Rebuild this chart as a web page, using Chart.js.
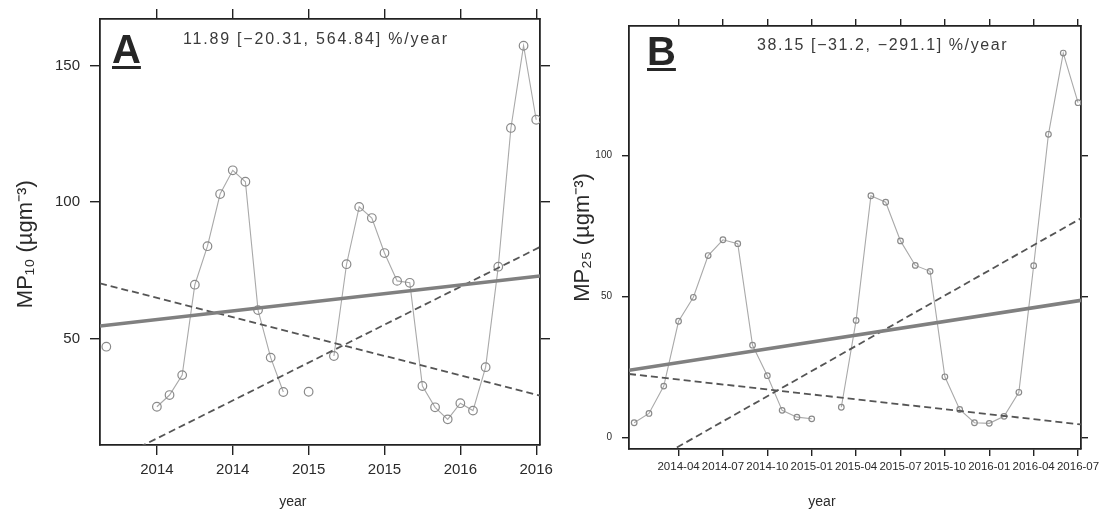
<!DOCTYPE html>
<html><head><meta charset="utf-8">
<script src="https://cdn.jsdelivr.net/npm/chart.js@4.4.1/dist/chart.umd.min.js"></script>
<style>
html,body{margin:0;padding:0;background:#fff;}
#wrap{position:relative;width:1102px;height:511px;overflow:hidden;}
canvas{position:absolute;top:0;}
#cA{left:0;}
#cB{left:560px;}
</style></head><body>
<div id="wrap">
<canvas id="cA" width="560" height="511"></canvas>
<canvas id="cB" width="542" height="511"></canvas>
</div>
<script>
// ---------- data ----------
const monthsA = ['2013-09','2013-10','2013-11','2013-12',
  '2014-01','2014-02','2014-03','2014-04','2014-05','2014-06','2014-07','2014-08','2014-09','2014-10','2014-11','2014-12',
  '2015-01','2015-02','2015-03','2015-04','2015-05','2015-06','2015-07','2015-08','2015-09','2015-10','2015-11','2015-12',
  '2016-01','2016-02','2016-03','2016-04','2016-05','2016-06','2016-07'];
const mp10 = [47, null, null, null,
  25, 29.3, 36.6, 69.7, 83.8, 102.9, 111.6, 107.4, 60.4, 43, 30.4, null,
  30.5, null, 43.6, 77.2, 98.2, 94.1, 81.3, 71.1, 70.4, 32.6, 24.8, 20.4,
  26.3, 23.6, 39.5, 76.3, 127.1, 157.2, 130.1];

const monthsB = ['2014-01','2014-02','2014-03','2014-04','2014-05','2014-06','2014-07','2014-08','2014-09','2014-10','2014-11','2014-12',
  '2015-01','2015-02','2015-03','2015-04','2015-05','2015-06','2015-07','2015-08','2015-09','2015-10','2015-11','2015-12',
  '2016-01','2016-02','2016-03','2016-04','2016-05','2016-06','2016-07'];
const mp25 = [5.3, 8.6, 18.3, 41.3, 49.8, 64.6, 70.2, 68.8, 32.8, 22.0, 9.7, 7.3,
  6.7, null, 10.8, 41.6, 85.8, 83.5, 69.8, 61.1, 59, 21.6, 10, 5.3,
  5.1, 7.6, 16.1, 61, 107.6, 136.4, 118.8];

const tickDatesA = ['2014-01','2014-07','2015-01','2015-07','2016-01','2016-07'];
const tickLabelsA = ['2014','2014','2015','2015','2016','2016'];
const tickDatesB = ['2014-04','2014-07','2014-10','2015-01','2015-04','2015-07','2015-10','2016-01','2016-04','2016-07'];
const tickLabelsB = ['2014-04','2014-07','2014-10','2015-01','2015-04','2015-07','2015-10','2016-01','2016-04','2016-07'];
const yTicksA = [50, 100, 150];
const yTicksB = [0, 50, 100];

// trend lines: value at left and right edge of the panel
const trendSolidA = [54.6, 72.9];
const trendLowA   = [70.2, 29.1];
const trendHighA  = [3.0, 83.5];
const trendSolidB = [23.9, 48.7];
const trendLowB   = [22.6, 4.7];
const trendHighB  = [-13.1, 77.8];

const statsA = '11.89 [\u221220.31, 564.84] %/year';
const statsB = '38.15 [\u221231.2, \u2212291.1] %/year';

// ---------- helpers ----------
const mi = s => { const [y, m] = s.split('-').map(Number); return (y - 2014) * 12 + (m - 1); };
const FONT = '"Liberation Sans", Arial, Helvetica, sans-serif';
const INK = '#222';

const panelText = {
  id: 'panelText',
  afterDatasetsDraw(chart, args, o) {
    const {ctx, chartArea: a} = chart;
    ctx.save();
    ctx.fillStyle = '#262626';
    ctx.font = 'bold 40px ' + FONT;
    ctx.textAlign = 'left';
    ctx.textBaseline = 'alphabetic';
    const lx = a.left + o.letterDx, ly = a.top + o.letterDy;
    ctx.fillText(o.letter, lx, ly);
    const w = ctx.measureText(o.letter).width;
    ctx.fillRect(lx, ly + 3, w, 3);
    ctx.font = '16px ' + FONT;
    ctx.fillStyle = '#3a3a3a';
    try { ctx.letterSpacing = o.spacing; } catch (e) {}
    ctx.fillText(o.stats, a.left + o.statsDx, a.top + o.statsDy);
    ctx.restore();
  }
};

function buildChart(id, p) {
  const x0 = p.xMin, x1 = p.xMax;
  const seg = v => [{x: x0, y: v[0]}, {x: x1, y: v[1]}];
  const pts = p.months.map((m, i) => ({x: mi(m), y: p.values[i]}));
  const tickVals = p.tickDates.map(mi);
  const setX = s => { s.ticks = tickVals.map(v => ({value: v})); };
  const setY = s => { s.ticks = p.yTicks.map(v => ({value: v})); };
  const grid = {drawOnChartArea: false, drawTicks: true, tickLength: p.tl, color: INK, tickColor: INK, tickWidth: 1.4, lineWidth: 1.4};
  const border = {display: true, color: INK, width: 1.8};
  return new Chart(document.getElementById(id), {
    type: 'line',
    data: {datasets: [
      {data: seg(p.trendSolid), borderColor: '#808080', borderWidth: 3.6, pointRadius: 0, order: 1},
      {data: seg(p.trendLow), borderColor: '#555', borderWidth: 1.8, borderDash: [7, 4], pointRadius: 0, order: 2},
      {data: seg(p.trendHigh), borderColor: '#555', borderWidth: 1.8, borderDash: [7, 4], pointRadius: 0, order: 3},
      {data: pts, borderColor: '#a9a9a9', borderWidth: 1.1, pointRadius: p.r, pointBorderColor: '#8a8a8a',
       pointBackgroundColor: 'rgba(255,255,255,0)', pointBorderWidth: 1.2, spanGaps: false, order: 4}
    ]},
    options: {
      responsive: false, animation: false, events: [],
      layout: {padding: 0},
      plugins: {legend: {display: false}, tooltip: {enabled: false}, panelText: p.text},
      scales: {
        x: {type: 'linear', position: 'bottom', min: x0, max: x1,
          afterBuildTicks: setX,
          afterFit: s => { s.height = p.bottomH; s.paddingLeft = 0; s.paddingRight = 0; },
          ticks: {autoSkip: false, maxRotation: 0, padding: p.xPad, color: '#2a2a2a', font: {family: FONT, size: p.xFont},
            callback: v => p.tickLabels[tickVals.indexOf(v)]},
          grid: grid, border: border,
          title: {display: true, text: p.xTitle, color: '#2a2a2a', font: {family: FONT, size: 14}, padding: {top: 0, bottom: 0}}},
        x2: {type: 'linear', position: 'top', min: x0, max: x1,
          afterBuildTicks: setX,
          afterFit: s => { s.height = p.topH; s.paddingLeft = 0; s.paddingRight = 0; },
          ticks: {display: false, autoSkip: false}, grid: grid, border: border},
        y: {type: 'linear', position: 'left', min: p.yMin, max: p.yMax,
          afterBuildTicks: setY,
          afterFit: s => { s.width = p.leftW; s.paddingTop = 0; s.paddingBottom = 0; },
          ticks: {padding: p.yPad, color: '#2a2a2a', font: {family: FONT, size: p.yFont}},
          grid: grid, border: border,
          title: {display: true, text: p.yTitle, color: '#2a2a2a', font: {family: FONT, size: 22}, padding: {top: p.yTitlePad, bottom: 0}}},
        y2: {type: 'linear', position: 'right', min: p.yMin, max: p.yMax,
          afterBuildTicks: setY,
          afterFit: s => { s.width = p.rightW; s.paddingTop = 0; s.paddingBottom = 0; },
          ticks: {display: false}, grid: grid, border: border}
      }
    },
    plugins: [panelText]
  });
}

buildChart('cA', {
  months: monthsA, values: mp10, tickDates: tickDatesA, tickLabels: tickLabelsA, yTicks: yTicksA,
  trendSolid: trendSolidA, trendLow: trendLowA, trendHigh: trendHighA,
  xMin: mi('2013-09') - 0.5, xMax: mi('2016-07') + 0.3, yMin: 11, yMax: 167,
  leftW: 100, rightW: 20, topH: 19, bottomH: 66, tl: 10, xPad: 6, yPad: 10, xFont: 15, yFont: 15, r: 4.3,
  xTitle: 'year' + ' '.repeat(14), yTitle: 'MP\u2081\u2080 (\u00B5gm\u207B\u00B3)' + '    ', yTitlePad: 13,
  text: {letter: 'A', letterDx: 12, letterDy: 44, stats: statsA, statsDx: 83, statsDy: 25, spacing: '1.8px'}
});

buildChart('cB', {
  months: monthsB, values: mp25, tickDates: tickDatesB, tickLabels: tickLabelsB, yTicks: yTicksB,
  trendSolid: trendSolidB, trendLow: trendLowB, trendHigh: trendHighB,
  xMin: mi('2014-01') - 0.35, xMax: mi('2016-07') + 0.2, yMin: -4, yMax: 146,
  leftW: 69, rightW: 21, topH: 26, bottomH: 62, tl: 7, xPad: 4, yPad: 10, xFont: 11.5, yFont: 10, r: 2.8,
  xTitle: 'year' + ' '.repeat(17), yTitle: 'MP\u2082\u2085 (\u00B5gm\u207B\u00B3)', yTitlePad: 10,
  text: {letter: 'B', letterDx: 18, letterDy: 39, stats: statsB, statsDx: 128, statsDy: 24, spacing: '1.6px'}
});
</script>
</body></html>
